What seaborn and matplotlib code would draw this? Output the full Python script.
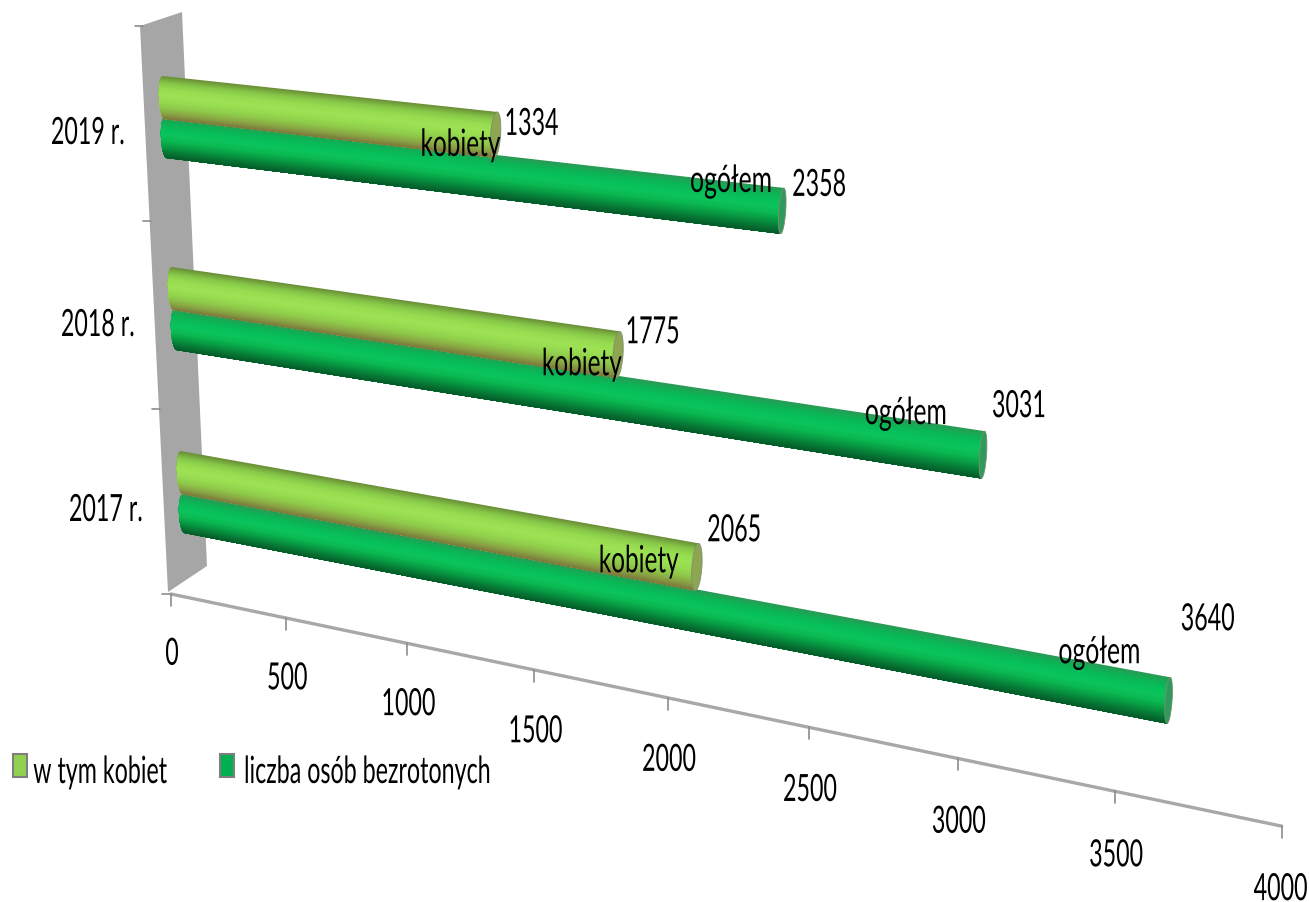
import numpy as np
import pandas as pd
import seaborn as sns
import matplotlib.pyplot as plt
from matplotlib.patches import Polygon, Ellipse, Rectangle
from matplotlib.patheffects import AbstractPathEffect
from matplotlib.transforms import Affine2D

# Data
years = ['2017 r.', '2018 r.', '2019 r.']
total = [3640, 3031, 2358]
women = [2065, 1775, 1334]
x_ticks = [0, 500, 1000, 1500, 2000, 2500, 3000, 3500, 4000]
legend_names = ['w tym kobiet', 'liczba osób bezrotonych']

sns.set_theme(style='white')
plt.rcParams['font.family'] = ['Lato', 'DejaVu Sans']
FS = 27


# the original text is squeezed sideways, matplotlib has no font stretch
class Squeeze(AbstractPathEffect):
    def __init__(self, sx, anchor):
        super().__init__()
        self.sx = sx
        self.anchor = anchor

    def draw_path(self, renderer, gc, tpath, affine, rgbFace=None):
        ext = tpath.get_extents()
        cx = {'left': ext.x0, 'center': (ext.x0 + ext.x1) / 2, 'right': ext.x1}[self.anchor]
        t = Affine2D().translate(-cx, 0).scale(self.sx, 1).translate(cx, 0) + affine
        renderer.draw_path(gc, tpath, t, rgbFace)


def label(x, y, s, ha='center', sx=0.62):
    ax.text(x, y, s, ha=ha, va='center', fontsize=FS, color='black', zorder=5,
            path_effects=[Squeeze(sx, ha)])


fig = plt.figure(figsize=(13.09, 9.03), dpi=100)
ax = fig.add_axes([0, 0, 1, 1])
ax.set_xlim(0, 1309)
ax.set_ylim(903, 0)
ax.axis('off')

# the picture is a 3D chart, so everything goes through a small perspective
VP = (-5100, -480)


def axis_x(v):
    return 171 + 0.2248 * v / (1 - 4.76e-5 * v)


def axis_y(x):
    return 595 + 0.209 * (x - 171)


def bar_x(v, x0, depth):
    return x0 + depth * 0.2522 * v / (1 - 2.04e-5 * v)


def to_vp(x0, q, x):
    s = (x - x0) / (x0 - VP[0])
    return q + s * (q - VP[1])


# grey back wall
ax.add_patch(Polygon([(140, 27), (182, 13), (207, 567), (168, 593)], fc='#a6a6a6', ec='none', zorder=1))
for tx, ty in [(135, 27), (143, 222), (152, 410), (162, 595)]:
    ax.plot([tx, tx + 8], [ty, ty], color='#8c8c8c', lw=1.2, zorder=1)

# value axis
axis_df = pd.DataFrame({'x': [axis_x(t) for t in x_ticks]})
axis_df['y'] = axis_y(axis_df['x'])
sns.lineplot(data=axis_df, x='x', y='y', color='#a8a8a8', lw=2.4, ax=ax, zorder=1, sort=False)
for t, x, y in zip(x_ticks, axis_df['x'], axis_df['y']):
    ax.plot([x, x], [y, y + 12], color='#8c8c8c', lw=1.2, zorder=1)
    if t == x_ticks[-1]:
        label(1308, y + 63, str(t), ha='right')
    else:
        label(x + 1, y + 59 + x * 0.0045, str(t))

light = sns.blend_palette(['#6b9038', '#86c748', '#97dc50', '#9ee254', '#98dc50', '#8ecb4a', '#8aa844', '#7d7a3e'], 60)
dark = sns.blend_palette(['#2a9a55', '#0cb455', '#08c05a', '#0cc45c', '#0ab850', '#079c44', '#067a36', '#055c2a'], 60)


def cylinder(v, x0, top, h, depth, colors, cap_color, cap_w):
    xe = bar_x(v, x0, depth) - cap_w / 2
    n = len(colors)
    ts = np.linspace(0, 1, 41)
    left = x0 + 4.5 - 4.5 * np.sqrt(1 - (2 * ts - 1) ** 2) + 2 * ts
    ybot = to_vp(x0, top + h, xe)
    # painted from the top down, every strip reaches the bottom so no seams show
    for i in range(n):
        t0 = i / n
        m = ts >= t0
        q0 = top + t0 * h
        pts = [(x0 + 4.5 - 4.5 * np.sqrt(1 - (2 * t0 - 1) ** 2) + 2 * t0, q0), (xe - 3 * t0, to_vp(x0, q0, xe)),
               (xe - 3, ybot)] + list(zip(left[m][::-1], (top + ts[m] * h)[::-1]))
        ax.add_patch(Polygon(pts, fc=colors[i], ec='none', zorder=3))
    ytop = to_vp(x0, top, xe)
    ax.add_patch(Ellipse((xe - 1.5, (ytop + ybot) / 2), cap_w, ybot - ytop, angle=4,
                         fc=cap_color, ec='#7f8f70', lw=0.6, zorder=3))
    return xe + cap_w / 2, ytop


row_x = [178, 170, 160]
row_top = [495, 310, 118]
row_h = [39, 41, 41]
women_x = [176, 167, 158]
women_top = [452, 268, 77]
women_depth = [0.97, 0.985, 0.995]

# label offsets from the bar ends, placed by hand in the original
total_val_off = [(34, -58), (31, -25), (32, -3)]
total_txt_off = [(-74, -25), (-82, -18), (-56, -7)]
women_val_off = [(31, -13), (28, 1), (29, 12)]
women_txt_off = [(-65, 18), (-43, 33), (-42, 33)]

for i, year in enumerate(years):
    xe, ye = cylinder(total[i], row_x[i], row_top[i], row_h[i], 1.004, dark, '#2f9a5c', 7)
    label(xe + total_val_off[i][0], ye + total_val_off[i][1], str(total[i]))
    label(xe + total_txt_off[i][0], ye + total_txt_off[i][1], 'ogółem', sx=0.66)

    xe, ye = cylinder(women[i], women_x[i], women_top[i], 43, women_depth[i], light, '#8ea552', 10)
    label(xe + women_val_off[i][0], ye + women_val_off[i][1], str(women[i]))
    label(xe + women_txt_off[i][0], ye + women_txt_off[i][1], 'kobiety', sx=0.65)

    label(row_x[i] - 72, row_top[i] + 16, year)

# legend
for lx, name, tx, c in zip([13, 220], legend_names, [33, 243], ['#92d050', '#00b050']):
    ax.add_patch(Rectangle((lx, 755), 14, 23, fc=c, ec='#7f7f7f', lw=1.5, zorder=4))
    label(tx, 773, name, ha='left')

fig.savefig('out.png', dpi=100)
